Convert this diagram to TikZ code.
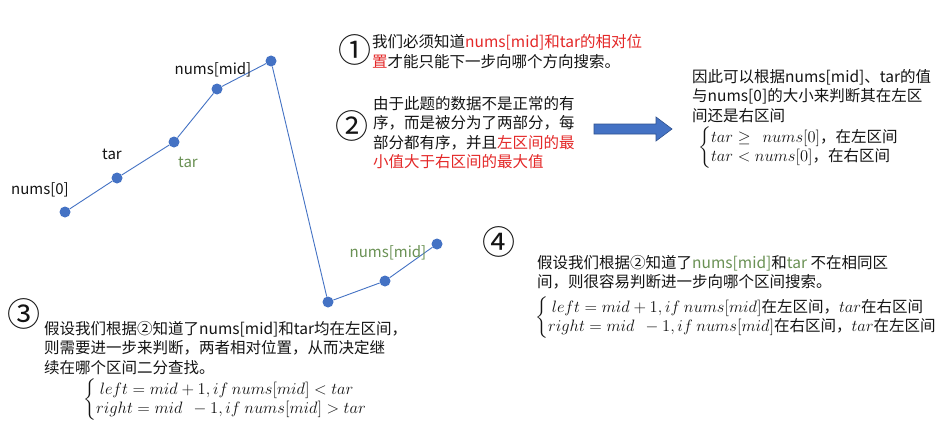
\RequirePackage{fix-cm}
\documentclass[tikz,border=0pt]{standalone}
\usepackage[no-math]{fontspec}
\setmainfont{Noto Sans CJK SC}
\usepackage{amsmath}
\definecolor{lineblue}{RGB}{68,114,196}
\definecolor{arrowedge}{RGB}{47,82,143}
\definecolor{cred}{RGB}{228,40,40}
\definecolor{cgreen}{RGB}{106,145,84}
\definecolor{ctext}{RGB}{20,20,20}
\newcommand\cn[1]{\mbox{\fontsize{15.5}{19.5}\selectfont #1}}
\tikzset{
  dot/.style={circle,fill=lineblue,inner sep=0pt,minimum size=11pt},
  conn/.style={draw=lineblue,line width=0.9pt},
  lbl/.style={inner sep=0pt,font=\fontsize{15}{18}\selectfont,text=ctext},
  txt/.style={anchor=base west,inner sep=0pt,font=\fontsize{15.5}{19.5}\selectfont,text=ctext},
  big/.style={inner sep=0pt,font=\fontsize{33}{36}\selectfont,text=ctext},
  mth/.style={anchor=west,inner sep=0pt,font=\fontsize{16.5}{19.5}\selectfont,text=ctext},
}
\begin{document}
\begin{tikzpicture}[x=1pt,y=-1pt]
\useasboundingbox[fill=white] (0,0) rectangle (944,436);
% points
\node[dot] (p0) at (65,212) {};
\node[dot] (p1) at (117,178) {};
\node[dot] (p2) at (174,142) {};
\node[dot] (p3) at (217,89) {};
\node[dot] (p4) at (271,61) {};
\node[dot] (p5) at (328,302) {};
\node[dot] (p6) at (385,281) {};
\node[dot] (p7) at (437,244) {};
\draw[conn] (p0) -- (p1) -- (p2) -- (p3) -- (p4) -- (p5) -- (p6) -- (p7);
% point labels
\node[lbl] (l0) at (40,190) {nums[0]};
\node[lbl] (l1) at (112,154) {tar};
\node[lbl,text=cgreen] (l2) at (188,162) {tar};
\node[lbl] (l3) at (213,70) {nums[mid]};
\node[lbl,text=cgreen] (l4) at (388,253) {nums[mid]};
% circled numbers
\node[big] (c1) at (355,50) {①};
\node[big] (c2) at (352,126) {②};
\node[big] (c3) at (24,314) {③};
\node[big] (c4) at (499,242) {④};
% text 1
\node[txt] (t1a) at (372,48) {我们必须知道{\color{cred}nums[mid]和tar的相对位}};
\node[txt] (t1b) at (372,67) {{\color{cred}置}才能只能下一步向哪个方向搜索。};
% text 2
\node[txt] (t2a) at (373,109) {由于此题的数据不是正常的有};
\node[txt] (t2b) at (373,128.5) {序，而是被分为了两部分，每};
\node[txt] (t2c) at (373,148) {部分都有序，并且{\color{cred}左区间的最}};
\node[txt] (t2d) at (373,167.5) {\color{cred}小值大于右区间的最大值};
% block arrow
\filldraw[fill=lineblue,draw=arrowedge,line width=0.6pt]
  (594,124) -- (656,124) -- (656,117) -- (672,129) -- (656,141) -- (656,134) -- (594,134) -- cycle;
% text 3
\node[txt] (t3a) at (692,82) {因此可以根据nums[mid]、tar的值};
\node[txt] (t3b) at (692,101.5) {与nums[0]的大小来判断其在左区};
\node[txt] (t3c) at (692,121) {间还是右区间};
\node[mth] (t3m) at (698,148) {$\left\{\begin{array}{@{}l@{}}
  tar \geq\ \ nums[0]\cn{，在左区间}\\
  tar < nums[0]\cn{，在右区间}
\end{array}\right.$};
% text 4
\node[txt] (t4a) at (537,268) {假设我们根据②知道了{\color{cgreen}nums[mid]}和{\color{cgreen}tar} 不在相同区};
\node[txt] (t4b) at (537,287.5) {间，则很容易判断进一步向哪个区间搜索。};
\node[mth] (t4m) at (535,318) {$\left\{\begin{array}{@{}l@{}}
  \ left = mid + 1, if\ nums[mid]\cn{在左区间，}tar\cn{在右区间}\\
  right = mid\ \ - 1, if\ nums[mid]\cn{在右区间，}tar\cn{在左区间}
\end{array}\right.$};
% text 3 (bottom left)
\node[txt] (t5a) at (44,334) {假设我们根据②知道了nums[mid]和tar均在左区间，};
\node[txt] (t5b) at (44,353.5) {则需要进一步来判断，两者相对位置，从而决定继};
\node[txt] (t5c) at (44,373) {续在哪个区间二分查找。};
\node[mth] (t5m) at (83,400) {$\left\{\begin{array}{@{}l@{}}
  \ left = mid + 1, if\ nums[mid] < tar\\
  right = mid\ \ - 1, if\ nums[mid] > tar
\end{array}\right.$};
\end{tikzpicture}
\end{document}
